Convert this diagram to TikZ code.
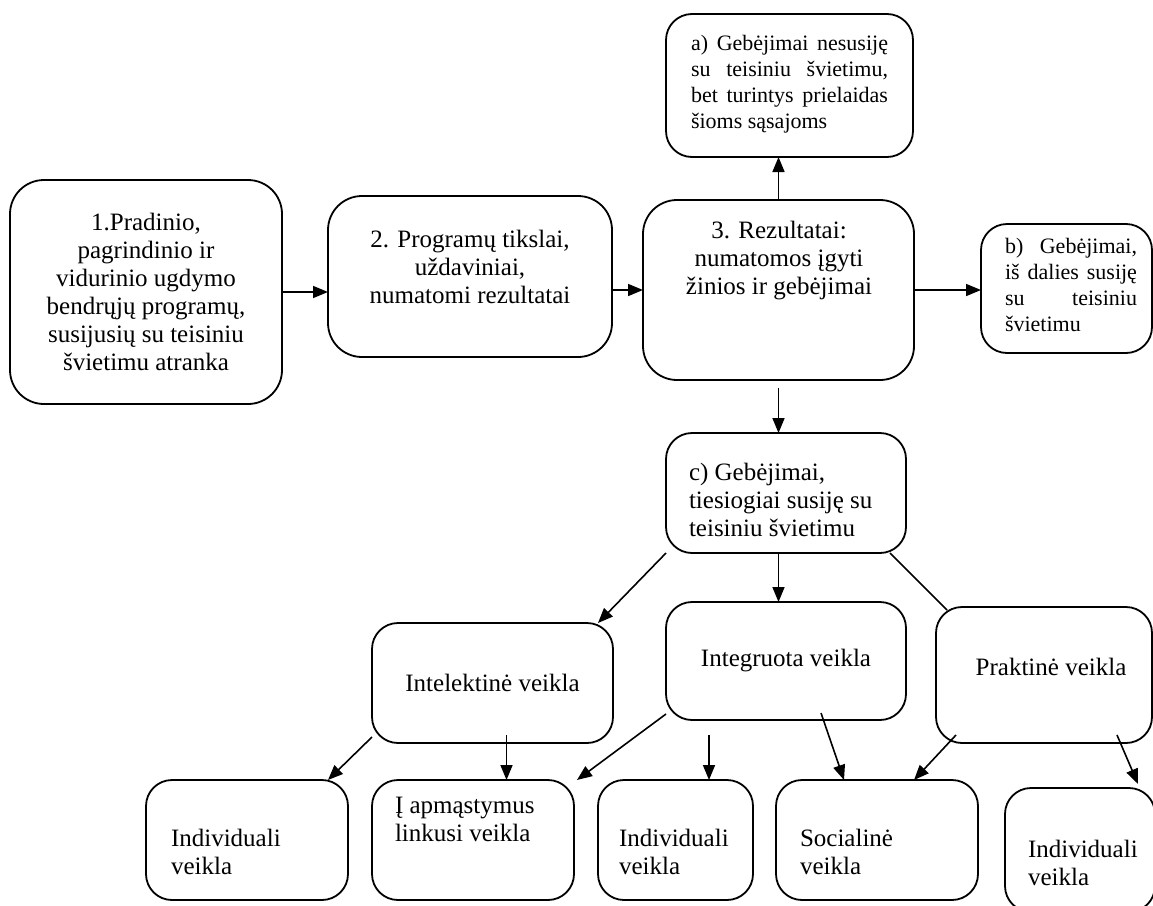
\documentclass[tikz,border=0pt]{standalone}
\usepackage{fontspec}
\setmainfont{Liberation Serif}
\usetikzlibrary{arrows.meta}

\tikzset{
  box/.style={draw, line width=1.8pt, rounded corners=26pt, inner sep=0pt, outer sep=0pt},
  bigbox/.style={box, rounded corners=34pt},
  txt/.style={inner sep=0pt, outer sep=0pt, font=\fontsize{25}{28}\selectfont},
  smalltxt/.style={inner sep=0pt, outer sep=0pt, font=\fontsize{22}{26}\selectfont},
  arr/.style={line width=1.6pt, -{Triangle[length=15pt,width=12pt]}},
  link/.style={line width=1.6pt}
}

\begin{document}
\begin{tikzpicture}[x=1pt,y=-1pt]
    \clip (0,0) rectangle (1153,905);
    \node[bigbox, txt, align=center, minimum width=272pt, minimum height=224pt] (sel) at (146,292)
      {1.Pradinio,\\pagrindinio ir\\vidurinio ugdymo\\bendrųjų programų,\\susijusių su teisiniu\\švietimu atranka};
    \node[bigbox, minimum width=284pt, minimum height=161pt] (prog) at (470,276.5) {};
    \node[txt, align=center, anchor=north] (progTxt) at (470,230)
      {2. Programų tikslai,\\uždaviniai,\\numatomi rezultatai};
    \node[bigbox, minimum width=271pt, minimum height=180pt] (rez) at (778.5,290) {};
    \node[txt, align=center, anchor=north] (rezTxt) at (779,221)
      {3. Rezultatai:\\numatomos įgyti\\žinios ir gebėjimai};
    \node[box, minimum width=247pt, minimum height=143pt] (gebA) at (789.5,85.5) {};
    \node[smalltxt, text width=197pt, align=justify, anchor=north] (gebATxt) at (789.5,35)
      {a) Gebėjimai nesusiję\linebreak su teisiniu švietimu,\linebreak bet turintys prielaidas\linebreak šioms sąsajoms};
    \node[box, minimum width=171pt, minimum height=129pt] (gebB) at (1066.5,288.5) {};
    \node[smalltxt, text width=132pt, align=justify, anchor=north] (gebBTxt) at (1071,238)
      {b) Gebėjimai,\linebreak iš dalies susiję\linebreak su teisiniu\linebreak švietimu};
    \node[box, minimum width=240pt, minimum height=120pt] (gebC) at (786,493) {};
    \node[txt, align=left, anchor=north west] (gebCTxt) at (689,463)
      {c) Gebėjimai,\\tiesiogiai susiję su\\teisiniu švietimu};
    \node[box, txt, minimum width=241pt, minimum height=120pt] (intel) at (492.5,683) {Intelektinė veikla};
    \node[box, txt, minimum width=240pt, minimum height=118pt] (integ) at (786,661) {Integruota veikla};
    \node[box, minimum width=216pt, minimum height=136pt] (prakt) at (1044,675) {};
    \node[txt] (praktTxt) at (1051,667) {Praktinė veikla};
    \node[box, minimum width=202pt, minimum height=120pt] (indA) at (247,840) {};
    \node[txt, align=left, anchor=north west] (indATxt) at (171,829) {Individuali\\veikla};
    \node[box, minimum width=202pt, minimum height=120pt] (apm) at (473,840) {};
    \node[txt, align=left, anchor=north west] (apmTxt) at (395,797) {Į apmąstymus\\linkusi veikla};
    \node[box, minimum width=155pt, minimum height=120pt] (indB) at (675.5,840) {};
    \node[txt, align=left, anchor=north west] (indBTxt) at (619,829) {Individuali\\veikla};
    \node[box, minimum width=202pt, minimum height=120pt] (soc) at (877,840) {};
    \node[txt, align=left, anchor=north west] (socTxt) at (800,829) {Socialinė\\veikla};
    \node[box, minimum width=150pt, minimum height=124pt] (indC) at (1080,850) {};
    \node[txt, align=left, anchor=north west] (indCTxt) at (1028,840) {Individuali\\veikla};

    \draw[arr] (sel.east) -- (sel.east -| prog.west);
    \draw[arr] (prog.east |- rez.west) -- (rez.west);
    \draw[arr] (rez.north) -- (rez.north |- gebA.south);
    \draw[arr] (rez.east) -- (rez.east -| gebB.west);
    \draw[arr] ([shift={(0,8)}]rez.south) -- (rez.south |- gebC.north);
    \draw[arr] (gebC.south west) -- ([xshift=-15pt]intel.north east);
    \draw[arr] (rez.south |- gebC.south) -- (rez.south |- integ.north);
    \draw[link] ([xshift=-16pt]gebC.south east) -- ([shift={(11,3)}]prakt.north west);
    \draw[arr] ([shift={(0,-6)}]intel.south west) -- ([xshift=-20pt]indA.north east);
    \draw[arr] ([shift={(14,-8)}]intel.south) -- ([xshift=14pt]intel.south |- apm.north);
    \draw[arr] ([shift={(0,-6)}]integ.south west) -- ([xshift=3pt]apm.north east);
    \draw[arr] ([shift={(-77,15)}]integ.south) -- ([xshift=-77pt]integ.south |- indB.north);
    \draw[arr] ([shift={(35,-7)}]integ.south) -- ([xshift=-33pt]soc.north);
    \draw[arr] ([shift={(20,-8)}]prakt.south west) -- ([xshift=37pt]soc.north);
    \draw[arr] ([shift={(73,-8)}]prakt.south) -- ([shift={(58,-4)}]indC.north);
\end{tikzpicture}
\end{document}
